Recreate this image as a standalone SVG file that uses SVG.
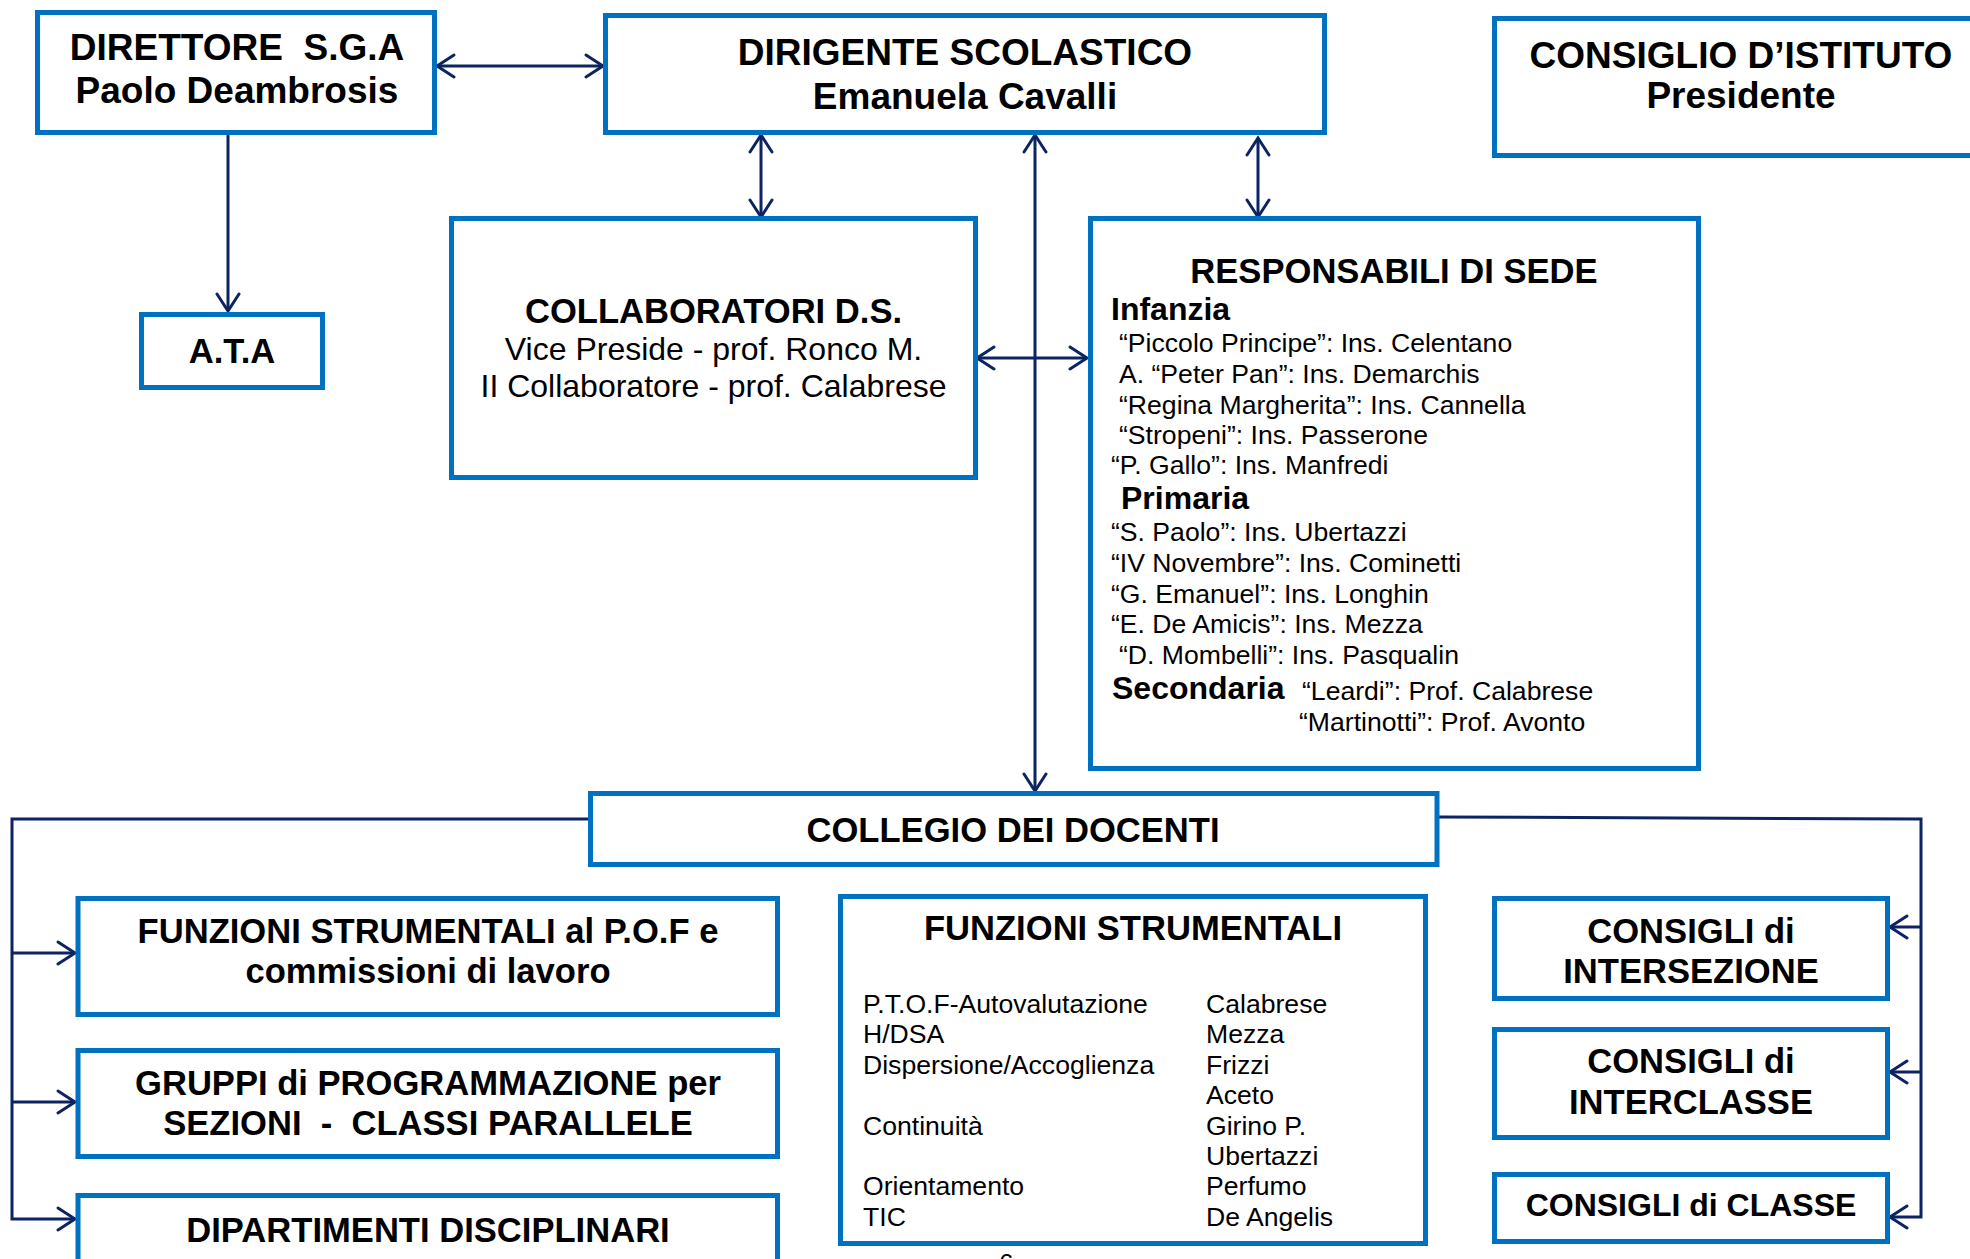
<svg xmlns="http://www.w3.org/2000/svg" width="1970" height="1259" viewBox="0 0 1970 1259">
<style>
.box{fill:#ffffff;stroke:#0070C0;stroke-width:5}
.t{font-family:"Liberation Sans",Arial,sans-serif;fill:#000000}
.b{font-weight:bold}
.c{text-anchor:middle}
.h37{font-size:37px}
.h35{font-size:34.6px}
.h32{font-size:32px}
.s{font-size:26.6px}
.con{fill:none;stroke:#0c2461;stroke-width:3}
</style>
<defs>
<marker id="ah" viewBox="0 0 22 26" refX="19" refY="13" markerWidth="22" markerHeight="26" markerUnits="userSpaceOnUse" orient="auto-start-reverse">
<path d="M2,2 L19,13 L2,24" fill="none" stroke="#0c2461" stroke-width="3" stroke-linecap="round"/>
</marker>
</defs>
<rect width="1970" height="1259" fill="#ffffff"/>

<g id="connectors">
<line class="con" x1="437" y1="66" x2="603" y2="66" marker-start="url(#ah)" marker-end="url(#ah)"/>
<line class="con" x1="228" y1="134" x2="228" y2="311" marker-end="url(#ah)"/>
<line class="con" x1="761" y1="135" x2="761" y2="217" marker-start="url(#ah)" marker-end="url(#ah)"/>
<line class="con" x1="1035" y1="135" x2="1035" y2="791" marker-start="url(#ah)" marker-end="url(#ah)"/>
<line class="con" x1="1258" y1="138" x2="1258" y2="217" marker-start="url(#ah)" marker-end="url(#ah)"/>
<line class="con" x1="977" y1="358" x2="1087" y2="358" marker-start="url(#ah)" marker-end="url(#ah)"/>
<polyline class="con" points="588,819 12,819 12,1219 75,1219" marker-end="url(#ah)"/>
<line class="con" x1="12" y1="953" x2="75" y2="953" marker-end="url(#ah)"/>
<line class="con" x1="12" y1="1102" x2="75" y2="1102" marker-end="url(#ah)"/>
<polyline class="con" points="1439,817 1921,819 1921,1217 1890,1217" marker-end="url(#ah)"/>
<line class="con" x1="1921" y1="927" x2="1890" y2="927" marker-end="url(#ah)"/>
<line class="con" x1="1921" y1="1072" x2="1890" y2="1072" marker-end="url(#ah)"/>
</g>

<g id="direttore">
<rect class="box" x="37.5" y="12.5" width="397" height="120"/>
<text class="t b c h37" x="237" y="60" xml:space="preserve">DIRETTORE  S.G.A</text>
<text class="t b c h37" x="237" y="103">Paolo Deambrosis</text>
</g>

<g id="dirigente">
<rect class="box" x="605.5" y="15.5" width="719" height="117"/>
<text class="t b c h37" x="965" y="65">DIRIGENTE SCOLASTICO</text>
<text class="t b c h37" x="965" y="109">Emanuela Cavalli</text>
</g>

<g id="consiglio-istituto">
<rect class="box" x="1494.5" y="18.5" width="500" height="137"/>
<text class="t b c h37" x="1741" y="68">CONSIGLIO D’ISTITUTO</text>
<text class="t b c h37" x="1741" y="108">Presidente</text>
</g>

<g id="ata">
<rect class="box" x="141.5" y="314.5" width="181" height="73"/>
<text class="t b c h35" x="232" y="363">A.T.A</text>
</g>

<g id="collaboratori">
<rect class="box" x="451.5" y="218.5" width="524" height="259"/>
<text class="t b c h35" x="713.5" y="323">COLLABORATORI D.S.</text>
<text class="t c h32" x="713.5" y="360">Vice Preside - prof. Ronco M.</text>
<text class="t c h32" x="713.5" y="397">II Collaboratore - prof. Calabrese</text>
</g>

<g id="responsabili">
<rect class="box" x="1090.5" y="218.5" width="608" height="550"/>
<text class="t b c h35" x="1394" y="283">RESPONSABILI DI SEDE</text>
<text class="t b h32" x="1111" y="320">Infanzia</text>
<text class="t s" x="1119" y="352">“Piccolo Principe”: Ins. Celentano</text>
<text class="t s" x="1119" y="383">A. “Peter Pan”: Ins. Demarchis</text>
<text class="t s" x="1119" y="414">“Regina Margherita”: Ins. Cannella</text>
<text class="t s" x="1119" y="444">“Stropeni”: Ins. Passerone</text>
<text class="t s" x="1111" y="474">“P. Gallo”: Ins. Manfredi</text>
<text class="t b h32" x="1121" y="509">Primaria</text>
<text class="t s" x="1111" y="541">“S. Paolo”: Ins. Ubertazzi</text>
<text class="t s" x="1111" y="572">“IV Novembre”: Ins. Cominetti</text>
<text class="t s" x="1111" y="603">“G. Emanuel”: Ins. Longhin</text>
<text class="t s" x="1111" y="633">“E. De Amicis”: Ins. Mezza</text>
<text class="t s" x="1119" y="664">“D. Mombelli”: Ins. Pasqualin</text>
<text class="t b h32" x="1112" y="699">Secondaria</text>
<text class="t s" x="1302" y="700">“Leardi”: Prof. Calabrese</text>
<text class="t s" x="1299" y="731">“Martinotti”: Prof. Avonto</text>
</g>

<g id="collegio">
<rect class="box" x="590.5" y="793.5" width="846.5" height="71"/>
<text class="t b c h35" x="1013" y="842">COLLEGIO DEI DOCENTI</text>
</g>

<g id="funzioni-pof">
<rect class="box" x="78" y="898.5" width="699.5" height="116"/>
<text class="t b c h35" x="428" y="943">FUNZIONI STRUMENTALI al P.O.F e</text>
<text class="t b c h35" x="428" y="983">commissioni di lavoro</text>
</g>

<g id="gruppi">
<rect class="box" x="78" y="1050.5" width="699.5" height="106"/>
<text class="t b c h35" x="428" y="1095">GRUPPI di PROGRAMMAZIONE per</text>
<text class="t b c h35" x="428" y="1135" xml:space="preserve">SEZIONI  -  CLASSI PARALLELE</text>
</g>

<g id="dipartimenti">
<rect class="box" x="78" y="1195.5" width="699.5" height="120"/>
<text class="t b c h35" x="428" y="1242">DIPARTIMENTI DISCIPLINARI</text>
</g>

<g id="funzioni-strumentali">
<rect class="box" x="840.5" y="896.5" width="585" height="347"/>
<text class="t b c h35" x="1133" y="940">FUNZIONI STRUMENTALI</text>
<text class="t s" x="863" y="1013">P.T.O.F-Autovalutazione</text>
<text class="t s" x="863" y="1043">H/DSA</text>
<text class="t s" x="863" y="1074">Dispersione/Accoglienza</text>
<text class="t s" x="863" y="1135">Continuità</text>
<text class="t s" x="863" y="1195">Orientamento</text>
<text class="t s" x="863" y="1226">TIC</text>
<text class="t s" x="1206" y="1013">Calabrese</text>
<text class="t s" x="1206" y="1043">Mezza</text>
<text class="t s" x="1206" y="1074">Frizzi</text>
<text class="t s" x="1206" y="1104">Aceto</text>
<text class="t s" x="1206" y="1135">Girino P.</text>
<text class="t s" x="1206" y="1165">Ubertazzi</text>
<text class="t s" x="1206" y="1195">Perfumo</text>
<text class="t s" x="1206" y="1226">De Angelis</text>
</g>

<g id="intersezione">
<rect class="box" x="1494.5" y="898.5" width="393" height="100"/>
<text class="t b c h35" x="1691" y="943">CONSIGLI di</text>
<text class="t b c h35" x="1691" y="983">INTERSEZIONE</text>
</g>

<g id="interclasse">
<rect class="box" x="1494.5" y="1029.5" width="393" height="108"/>
<text class="t b c h35" x="1691" y="1073">CONSIGLI di</text>
<text class="t b c h35" x="1691" y="1114">INTERCLASSE</text>
</g>

<g id="classe">
<rect class="box" x="1494.5" y="1174.5" width="393" height="67"/>
<text class="t b c h32" x="1691" y="1216">CONSIGLI di CLASSE</text>
</g>

<text class="t" x="999" y="1272" font-size="26">6</text>
</svg>
